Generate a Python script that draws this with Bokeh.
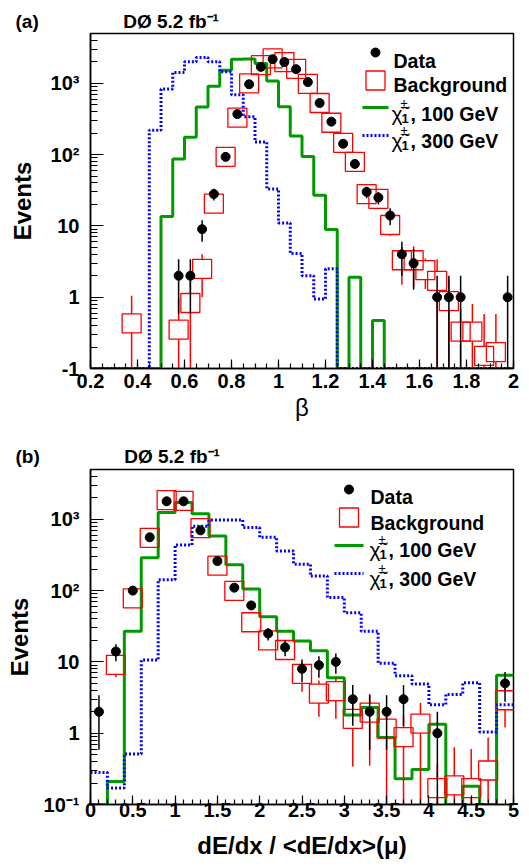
import numpy as np
from bokeh.plotting import figure
from bokeh.layouts import column
from bokeh.models import Label, FixedTicker, CustomJSTickFormatter, Range1d, Title
from bokeh.embed import file_html
from bokeh.resources import INLINE

FONT = "Liberation Sans"
RED = "#ff0000"
GREEN = "#009a00"
BLUE = "#0000ff"
BLACK = "#000000"
YMIN, YMAX = 0.1, 5000.0

# ---------------- panel (a): beta ----------------
beta_range = (0.2, 2.0)
beta_nbins = 36
beta_ticks = [0.2, 0.4, 0.6, 0.8, 1.0, 1.2, 1.4, 1.6, 1.8, 2.0]
beta_tick_labels = ["0.2", "0.4", "0.6", "0.8", "1", "1.2", "1.4", "1.6", "1.8", "2"]
beta_minor_step = 0.05
beta_ylabels = ["-1", "1", "10", "10²", "10³"]

beta_data_x = [0.575, 0.625, 0.675, 0.725, 0.775, 0.825, 0.875, 0.925, 0.975, 1.025,
               1.075, 1.125, 1.175, 1.225, 1.275, 1.325, 1.375, 1.425, 1.475, 1.525,
               1.575, 1.675, 1.725, 1.775, 1.975]
beta_data = [2, 2, 9, 28, 93, 370, 970, 1700, 2180, 1990,
             1580, 1040, 530, 290, 142, 74, 30, 25, 14, 4,
             3, 1, 1, 1, 1]
beta_bkg_x = [0.375, 0.575, 0.625, 0.675, 0.725, 0.775, 0.825, 0.875, 0.925, 0.975,
              1.025, 1.075, 1.125, 1.175, 1.225, 1.275, 1.325, 1.375, 1.425, 1.475,
              1.525, 1.575, 1.625, 1.675, 1.725, 1.775, 1.825, 1.875, 1.925]
beta_bkg = [0.43, 0.35, 0.83, 2.5, 20.5, 93, 330, 1000, 1800, 2240,
            1990, 1590, 980, 530, 280, 146, 79, 28, 24, 10.3,
            3.3, 3.3, 2.4, 1.7, 0.88, 0.33, 0.33, 0.15, 0.17]
beta_bkg_err = [0.62, 0.6, 1.0, 1.5, 4, 8, 15, 30, 40, 45,
                45, 40, 30, 23, 17, 12, 9, 5, 5, 3,
                1.8, 1.9, 1.1, 1.7, 0.9, 0.35, 0.47, 0.43, 0.41]
beta_c100 = [0, 0, 0, 0, 0, 0, 13.5, 87, 175, 465,
             910, 1520, 2180, 2200, 1900, 1080, 470, 183, 94, 27,
             8.9, 0, 1.9, 0, 0.47, 0, 0, 0, 0, 0,
             0, 0, 0, 0, 0, 0]
beta_c300 = [0, 0, 0, 0, 0, 220, 830, 1420, 2000, 2300,
             2000, 1450, 690, 340, 150, 33, 11, 4.1, 2.0, 0.94,
             2.5, 0, 0, 0, 0, 0, 0, 0, 0, 0,
             0, 0, 0, 0, 0, 0]

# ---------------- panel (b): dE/dx ----------------
dedx_range = (0.0, 5.0)
dedx_nbins = 25
dedx_ticks = [0, 0.5, 1, 1.5, 2, 2.5, 3, 3.5, 4, 4.5, 5]
dedx_tick_labels = ["0", "0.5", "1", "1.5", "2", "2.5", "3", "3.5", "4", "4.5", "5"]
dedx_minor_step = 0.1
dedx_ylabels = ["10⁻¹", "1", "10", "10²", "10³"]

dedx_data_x = [0.1, 0.3, 0.5, 0.7, 0.9, 1.1, 1.3, 1.5, 1.7, 1.9, 2.1, 2.3, 2.5, 2.7,
               2.9, 3.1, 3.3, 3.5, 3.7, 4.1, 4.9]
dedx_data = [2, 14, 100, 560, 1790, 1790, 700, 260, 110, 62, 25, 16, 8, 9,
             10, 3, 2, 2, 3, 1, 5]
dedx_bkg_x = [0.3, 0.5, 0.7, 0.9, 1.1, 1.3, 1.5, 1.7, 1.9, 2.1, 2.3, 2.5, 2.7, 2.9,
              3.1, 3.3, 3.5, 3.7, 3.9, 4.1, 4.3, 4.5, 4.7, 4.9]
dedx_bkg = [9.1, 78, 550, 1860, 1820, 755, 224, 99, 36, 20, 14.7, 6.8, 3.6, 3.9,
            1.59, 1.95, 1.16, 0.88, 1.36, 0.17, 0.185, 0.17, 0.30, 2.9]
dedx_bkg_err = [3, 6, 15, 30, 30, 20, 10, 7, 4, 3, 2.5, 3, 1.9, 2.3,
                1.25, 1.6, 1.2, 0.9, 1.3, 0.2, 0.45, 0.43, 0.57, 1.7]
dedx_c100 = [0, 0.21, 27, 290, 1250, 1720, 1200, 585, 230, 105,
             43, 27, 19.7, 14.3, 6.0, 1.8, 2.3, 0.87, 0.23, 0.31,
             1.34, 0, 0.18, 0, 6.5]
dedx_c300 = [0.28, 0.17, 0.51, 10.6, 142, 435, 800, 980, 980, 767,
             560, 360, 235, 160, 80, 49, 27, 9.6, 6.4, 4.9,
             2.5, 3.5, 5.1, 1.04, 2.5]

title_text = "DØ 5.2 fb⁻¹"
legend_texts = ["Data", "Background"]
chi_text = "χ̃"
chi_sup = "±"
chi_sub = "1"
chi_masses = [", 100 GeV", ", 300 GeV"]

FL, FR = 90, 513          # frame left / right (page px)
FIG_W = 529
NBSP = "\u00a0"


def build(fig_top, height, FT, FB, xr, nbins, xticks, xlabels, minor_step, ylabels,
          dx, dn, bx, bv, be, c100, c300, tag, xtitle, xtitle_style, L):
    p = figure(width=FIG_W, height=height, x_range=Range1d(*xr),
               y_range=Range1d(YMIN, YMAX), y_axis_type="log",
               output_backend="svg", toolbar_location=None,
               min_border_left=FL, min_border_right=FIG_W - FR,
               min_border_top=FT - fig_top, min_border_bottom=fig_top + height - FB)
    p.title = Title(text=tag + NBSP * 16 + title_text, align="left", offset=15 - FL,
                    text_font=FONT, text_font_size="19px", text_font_style="bold",
                    text_color=BLACK, standoff=L["title_standoff"])
    p.grid.visible = False
    p.outline_line_color = BLACK
    p.outline_line_width = 1.5
    p.background_fill_color = "white"
    p.border_fill_color = "white"

    # axes
    nminor = int(round((xr[1] - xr[0]) / minor_step))
    p.xaxis.ticker = FixedTicker(ticks=xticks,
                                 minor_ticks=list(np.linspace(xr[0], xr[1], nminor + 1)))
    p.xaxis.formatter = CustomJSTickFormatter(args=dict(tvals=xticks, tlabels=xlabels), code="""
        let best = 0, d = Infinity;
        for (let i = 0; i < tvals.length; i++) {
            const dd = Math.abs(tvals[i] - tick);
            if (dd < d) { d = dd; best = i; }
        }
        return tlabels[best];
    """)
    ymaj = [10.0 ** k for k in range(-1, 4)]
    ymin_t = [m * 10.0 ** k for k in range(-1, 4) for m in range(2, 10) if m * 10.0 ** k <= YMAX]
    p.yaxis.ticker = FixedTicker(ticks=ymaj, minor_ticks=ymin_t)
    p.yaxis.formatter = CustomJSTickFormatter(args=dict(ylab=ylabels),
                                              code="return ylab[Math.round(Math.log10(tick)) + 1];")
    for ax in (p.xaxis, p.yaxis):
        ax.axis_line_width = 1.5
        ax.major_tick_out = 0
        ax.minor_tick_out = 0
        ax.major_tick_line_width = 1.2
        ax.minor_tick_line_width = 1.2
        ax.major_label_text_font = FONT
        ax.major_label_text_font_size = "20px"
        ax.major_label_text_font_style = "bold"
        ax.major_label_text_color = BLACK
        ax.axis_label_text_font = FONT
        ax.axis_label_text_font_size = "24px"
        ax.axis_label_text_color = BLACK
    p.xaxis.major_tick_in = 9
    p.xaxis.minor_tick_in = 5
    p.yaxis.major_tick_in = 13
    p.yaxis.minor_tick_in = 7
    p.xaxis.major_label_standoff = L["xstand"]
    p.yaxis.major_label_standoff = 11
    p.yaxis.axis_label = "Events"
    p.yaxis.axis_label_text_font_style = "bold"
    p.yaxis.axis_label_standoff = L["ev_stand"]
    p.xaxis.axis_label = xtitle
    p.xaxis.axis_label_text_font_style = xtitle_style
    p.xaxis.axis_label_standoff = L["xt_stand"]

    # histograms
    edges = np.linspace(xr[0], xr[1], nbins + 1)
    xs = np.repeat(edges, 2)[1:-1]
    p.line(xs, np.repeat(np.maximum(np.asarray(c100, float), YMIN), 2),
           line_color=GREEN, line_width=3)
    p.line(xs, np.repeat(np.maximum(np.asarray(c300, float), YMIN), 2),
           line_color=BLUE, line_width=3, line_dash="2 2")

    # background: open squares with error bars outside the marker
    pxdec = (FB - FT) / np.log10(YMAX / YMIN)
    half = 10 ** (9.5 / pxdec)
    bv_ = np.asarray(bv, float)
    be_ = np.asarray(be, float)
    hi = bv_ + be_
    lo = np.maximum(bv_ - be_, YMIN)
    up_mask = hi > bv_ * half
    dn_mask = lo < bv_ / half
    bx_ = np.asarray(bx, float)
    p.segment(bx_[up_mask], (bv_ * half)[up_mask], bx_[up_mask], hi[up_mask],
              line_color=RED, line_width=1.5)
    p.segment(bx_[dn_mask], (bv_ / half)[dn_mask], bx_[dn_mask], lo[dn_mask],
              line_color=RED, line_width=1.5)
    p.scatter(bx_, bv_, marker="square", size=19, fill_color=None,
              line_color=RED, line_width=1.3)

    # data: filled circles with Poisson error bars
    dn_ = np.asarray(dn, float)
    dx_ = np.asarray(dx, float)
    err = np.sqrt(dn_)
    p.segment(dx_, np.maximum(dn_ - err, YMIN), dx_, dn_ + err,
              line_color=BLACK, line_width=1.5)
    p.scatter(dx_, dn_, marker="circle", size=9, fill_color=BLACK, line_color=BLACK)

    # helpers: page px -> frame-relative screen units / data units
    def sx(ix):
        return ix - FL

    def sy(iy):
        return FB - iy

    def datx(ix):
        return xr[0] + (ix - FL) / (FR - FL) * (xr[1] - xr[0])

    def daty(iy):
        return 10 ** (np.log10(YMIN) + (FB - iy) / (FB - FT) * np.log10(YMAX / YMIN))

    def lab(text, ix, iy, size, style="bold"):
        p.add_layout(Label(x=sx(ix), y=sy(iy), x_units="screen", y_units="screen",
                           text=text, text_font=FONT, text_font_size=size,
                           text_font_style=style, text_align="left",
                           text_baseline="alphabetic", text_color=BLACK))

    # legend
    mx, tx = L["mark_x"], L["text_x"]
    p.scatter([datx(mx)], [daty(L["rows"][0])], marker="circle", size=9,
              fill_color=BLACK, line_color=BLACK)
    p.scatter([datx(mx)], [daty(L["rows"][1])], marker="square", size=19,
              fill_color=None, line_color=RED, line_width=1.3)
    p.line([datx(L["line_x"][0]), datx(L["line_x"][1])], [daty(L["rows"][2])] * 2,
           line_color=GREEN, line_width=3)
    p.line([datx(L["line_x"][0]), datx(L["line_x"][1])], [daty(L["rows"][3])] * 2,
           line_color=BLUE, line_width=3, line_dash="2 2")
    lab(legend_texts[0], tx, L["bases"][0], "19.5px")
    lab(legend_texts[1], tx, L["bases"][1], "19.5px")
    for k in range(2):
        b = L["bases"][2 + k]
        cx = L["chi_x"]
        lab(chi_text, cx, b, "21px", style="normal")
        lab(chi_sup, cx + 9, b - 10, "13px", style="normal")
        lab(chi_sub, cx + 10, b + 5, "13px")
        lab(chi_masses[k], cx + 19, b, "19.5px")
    return p


La = dict(xstand=5, title_standoff=4, ev_stand=12, xt_stand=3,
          mark_x=375, text_x=393, line_x=(362, 388), rows=[52, 80, 107, 135],
          bases=[60, 84, 113, 140], chi_x=391)
Lb = dict(xstand=-2, title_standoff=6, ev_stand=8, xt_stand=12,
          mark_x=348.5, text_x=370, line_x=(334, 363), rows=[489, 517, 545, 573],
          bases=[496, 522, 549, 578], chi_x=369)

pa = build(0, 430, 33, 368, beta_range, beta_nbins, beta_ticks, beta_tick_labels,
           beta_minor_step, beta_ylabels, beta_data_x, beta_data, beta_bkg_x, beta_bkg,
           beta_bkg_err, beta_c100, beta_c300, "(a)", "β", "normal", La)
pb = build(430, 437, 469, 804, dedx_range, dedx_nbins, dedx_ticks, dedx_tick_labels,
           dedx_minor_step, dedx_ylabels, dedx_data_x, dedx_data, dedx_bkg_x, dedx_bkg,
           dedx_bkg_err, dedx_c100, dedx_c300, "(b)", "dE/dx / <dE/dx>(μ)", "bold", Lb)

layout = column(pa, pb, spacing=0)
open("out.html", "w").write(file_html(layout, INLINE))
